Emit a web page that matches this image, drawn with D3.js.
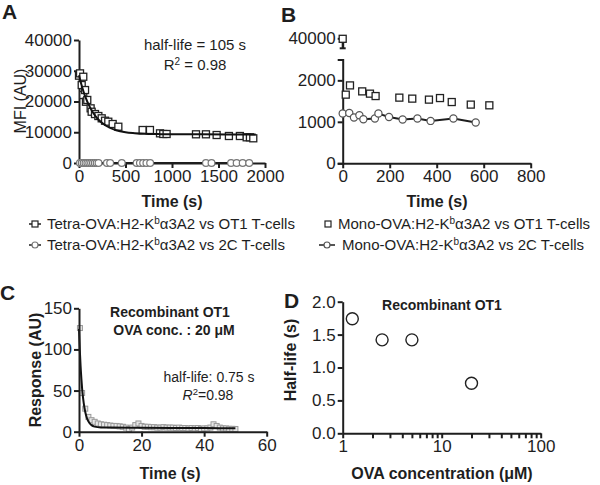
<!DOCTYPE html>
<html><head><meta charset="utf-8">
<script src="https://cdn.jsdelivr.net/npm/d3@7"></script>
<style>body{margin:0;background:#fff}svg{display:block}</style>
</head><body>
<script>
// ---------- DATA ----------
// Panel A: Tetra-OVA:H2-Kb a3A2 vs OT1 T-cells (squares) and fitted decay
const A_OT1_t = [0, 11, 29, 46, 46, 65, 75, 89, 125, 136, 172, 208, 244, 280, 315, 362, 423, 684, 763, 871, 906, 942, 1258, 1365, 1480, 1612, 1730, 1803, 1838, 1874];
const A_OT1_v = [28400, 29150, 25350, 28050, 22100, 23730, 19920, 20500, 17780, 16670, 15920, 15280, 14530, 13750, 13430, 12680, 11800, 10730, 10730, 9650, 9430, 9430, 9330, 9330, 9100, 8780, 8780, 8350, 8350, 8030];
const A_fit_t = [0, 25, 50, 75, 100, 150, 200, 250, 300, 400, 500, 600, 700, 850, 1000, 1300, 1600, 1900];
const A_fit_v = [28500, 25600, 23100, 21000, 19200, 16400, 14400, 13000, 11950, 10650, 10000, 9700, 9500, 9400, 9330, 9310, 9300, 9300];
// Panel A: Tetra-OVA:H2-Kb a3A2 vs 2C T-cells (circles)
const A_2C_t = [10, 30, 50, 70, 90, 110, 130, 150, 170, 190, 210, 300, 335, 460, 620, 655, 690, 725, 765, 1365, 1425, 1635, 1695, 1760, 1830];
const A_2C_v = [0, 0, 0, 0, 0, 0, 0, 0, 0, 0, 0, 0, 0, 0, 0, 0, 0, 0, 0, 0, 0, 0, 0, 0, 0];
const A_xticks = [0, 500, 1000, 1500, 2000];
const A_yticks = [0, 10000, 20000, 30000, 40000];

// Panel B: Mono-OVA:H2-Kb a3A2 vs OT1 (squares) and vs 2C (circles)
const B_OT1_t = [0, 13, 31, 83, 116, 140, 241, 296, 367, 414, 464, 545, 624];
const B_OT1_v = [39800, 1655, 1878, 1734, 1679, 1621, 1583, 1559, 1535, 1573, 1477, 1415, 1398];
const B_OT1_sd = [3800, 0, 0, 0, 0, 0, 0, 0, 0, 0, 0, 0, 0];
const B_2C_t = [0, 28, 48, 71, 88, 137, 152, 197, 255, 318, 374, 471, 566];
const B_2C_v = [1199, 1213, 1103, 1158, 1062, 1079, 1199, 1118, 1055, 1079, 1022, 1079, 983];
const B_xticks = [0, 200, 400, 600, 800];
const B_yticksLow = [0, 1000, 2000];
const B_yticksHigh = [40000];

// Panel C: Recombinant OT1, OVA 20 uM response
const C_t = [0.3, 1, 2, 3, 4, 5, 6, 7, 8, 9, 10, 11, 12, 13, 14, 15, 16, 17, 18, 19, 20, 21, 22, 23, 24, 25, 26, 27, 28, 29, 30, 31, 32, 33, 34, 35, 36, 37, 38, 39, 40, 41, 42, 43, 44, 45, 46, 47, 48, 49, 50];
const C_v = [126, 47, 28, 18, 14, 12, 10, 9, 8.5, 8, 7.5, 7, 7, 6.5, 6, 5, 3, 5, 8, 10, 7, 6, 6, 5.5, 5.5, 5, 5, 5.5, 5, 5, 5, 4.5, 5, 4.5, 4.5, 4, 4.5, 4, 4.5, 3.5, 4, 4, 5, 9, 7, 5, 4, 4, 3.5, 3.5, 3.3];
const C_fit_t = [0, 0.25, 0.5, 0.75, 1, 1.5, 2, 2.5, 3, 4, 5, 7, 10, 20, 30, 40, 50];
const C_fit_v = [125, 100, 80, 65, 52, 35, 24, 17, 12.5, 8, 6.2, 5.2, 5, 4.8, 4.6, 4.4, 4.2];
const C_xticks = [0, 20, 40, 60];
const C_yticks = [0, 50, 100, 150];

// Panel D: half-life vs OVA concentration
const D_conc = [1.25, 2.5, 5, 20];
const D_half = [1.74, 1.42, 1.42, 0.76];
const D_xticks = [1, 10, 100];
const D_yticks = [0, 0.5, 1.0, 1.5, 2.0];

// ---------- DRAW ----------
const FONT = "'Liberation Sans', Arial, Helvetica, sans-serif";
const INK = "#1e1e1e";
const TICK_FS = 17;
const svg = d3.select("body").append("svg").attr("width", 600).attr("height", 485)
  .attr("font-family", FONT);

function styleAxis(g) {
  g.attr("font-family", FONT).attr("font-size", TICK_FS);
  g.select(".domain").attr("stroke", INK).attr("stroke-width", 2);
  g.selectAll(".tick line").attr("stroke", INK).attr("stroke-width", 2);
  g.selectAll(".tick text").attr("fill", INK);
}
function txt(x, y, s, opt = {}) {
  const t = svg.append("text").attr("x", x).attr("y", y).text(s)
    .attr("font-size", opt.size || 15).attr("fill", INK)
    .attr("text-anchor", opt.anchor || "middle")
    .attr("font-weight", opt.bold ? "bold" : "normal");
  if (opt.rotate) t.attr("transform", `rotate(-90,${x},${y})`);
  return t;
}
function squares(sel, pts, size, stroke, fill, sw) {
  sel.selectAll(null).data(pts).enter().append("rect")
    .attr("x", d => d[0] - size / 2).attr("y", d => d[1] - size / 2)
    .attr("width", size).attr("height", size)
    .attr("fill", fill).attr("stroke", stroke).attr("stroke-width", sw);
}
function circles(sel, pts, r, stroke, fill, sw) {
  sel.selectAll(null).data(pts).enter().append("circle")
    .attr("cx", d => d[0]).attr("cy", d => d[1]).attr("r", r)
    .attr("fill", fill).attr("stroke", stroke).attr("stroke-width", sw);
}

// Panel letters
txt(2, 19, "A", { size: 21, bold: true, anchor: "start" });
txt(281, 22, "B", { size: 21, bold: true, anchor: "start" });
txt(0, 300, "C", { size: 21, bold: true, anchor: "start" });
txt(284, 308, "D", { size: 21, bold: true, anchor: "start" });

// ===== Panel A =====
{
  const x = d3.scaleLinear().domain([0, 2000]).range([79, 265]);
  const y = d3.scaleLinear().domain([0, 40000]).range([163, 40]);
  const g = svg.append("g");
  const line2C = d3.line().x((d, i) => x(A_2C_t[i])).y((d, i) => y(A_2C_v[i]));
  g.append("path").attr("d", line2C(A_2C_t)).attr("fill", "none").attr("stroke", INK).attr("stroke-width", 2);
  styleAxis(svg.append("g").attr("transform", "translate(0,163)")
    .call(d3.axisBottom(x).tickValues(A_xticks).tickSize(5).tickSizeOuter(0).tickPadding(2).tickFormat(d3.format("d"))));
  styleAxis(svg.append("g").attr("transform", "translate(79,0)")
    .call(d3.axisLeft(y).tickValues(A_yticks).tickSize(5).tickSizeOuter(0).tickPadding(2).tickFormat(d3.format("d"))));
  const g2 = svg.append("g");
  circles(g2, A_2C_t.map((t, i) => [x(t), y(A_2C_v[i])]), 3.4, "#777", "#fff", 1.2);
  squares(g2, A_OT1_t.map((t, i) => [x(t), y(A_OT1_v[i])]), 7, "#222", "#fff", 1.3);
  const fit = d3.line().curve(d3.curveMonotoneX).x((d, i) => x(A_fit_t[i])).y((d, i) => y(A_fit_v[i]));
  g2.append("path").attr("d", fit(A_fit_t)).attr("fill", "none").attr("stroke", "#111").attr("stroke-width", 2);
  txt(195, 50, "half-life = 105 s", { size: 15 });
  const r2 = txt(195, 70, "R", { size: 15 });
  r2.append("tspan").attr("baseline-shift", "super").attr("font-size", 10).text("2");
  r2.append("tspan").text(" = 0.98");
  txt(26, 101, "MFI (AU)", { size: 16, rotate: true });
  txt(172, 207, "Time (s)", { size: 16, bold: true });
}

// ===== Panel B =====
{
  const x = d3.scaleLinear().domain([0, 800]).range([342.7, 530.7]);
  const yL = d3.scaleLinear().domain([0, 2500]).range([163.3, 59.6]);
  const yH = d3.scaleLinear().domain([36000, 40000]).range([48.3, 38.3]);
  const yy = v => v > 2500 ? yH(v) : yL(v);
  styleAxis(svg.append("g").attr("transform", "translate(0,163.3)")
    .call(d3.axisBottom(x).tickValues(B_xticks).tickSize(5).tickSizeOuter(0).tickPadding(2)));
  styleAxis(svg.append("g").attr("transform", "translate(342.7,0)")
    .call(d3.axisLeft(yL).tickValues(B_yticksLow).tickSize(5).tickSizeOuter(5).tickPadding(2).tickFormat(d3.format("d"))));
  styleAxis(svg.append("g").attr("transform", "translate(342.7,0)")
    .call(d3.axisLeft(yH).tickValues(B_yticksHigh).tickSize(5).tickSizeOuter(0).tickPadding(2).tickFormat(d3.format("d"))));
  const g = svg.append("g");
  B_OT1_t.forEach((t, i) => {
    if (!B_OT1_sd[i]) return;
    const yLo = yy(B_OT1_v[i] - B_OT1_sd[i]);
    g.append("line").attr("x1", x(t)).attr("x2", x(t)).attr("y1", yy(B_OT1_v[i])).attr("y2", yLo).attr("stroke", INK).attr("stroke-width", 2);
    g.append("line").attr("x1", x(t) - 3).attr("x2", x(t) + 3).attr("y1", yLo).attr("y2", yLo).attr("stroke", INK).attr("stroke-width", 2);
  });
  const l = d3.line().x((d, i) => x(B_2C_t[i])).y((d, i) => yy(B_2C_v[i]));
  g.append("path").attr("d", l(B_2C_t)).attr("fill", "none").attr("stroke", INK).attr("stroke-width", 2);
  circles(g, B_2C_t.map((t, i) => [x(t), yy(B_2C_v[i])]), 3.6, "#555", "#fff", 1.2);
  squares(g, B_OT1_t.map((t, i) => [x(t), yy(B_OT1_v[i])]), 7, "#222", "#fff", 1.3);
  txt(437, 207, "Time (s)", { size: 16, bold: true });
}

// ===== Legend =====
{
  const g = svg.append("g");
  function label(xp, yp, pre, post) {
    const t = g.append("text").attr("x", xp).attr("y", yp).attr("font-size", 15).attr("fill", INK).text(pre);
    t.append("tspan").attr("baseline-shift", "super").attr("font-size", 10).text("b");
    t.append("tspan").text(post);
  }
  g.append("line").attr("x1", 29).attr("x2", 41).attr("y1", 224).attr("y2", 224).attr("stroke", INK).attr("stroke-width", 1.5);
  squares(g, [[35, 224]], 6, "#222", "#fff", 1.2);
  label(47, 229, "Tetra-OVA:H2-K", "α3A2 vs OT1 T-cells");
  g.append("line").attr("x1", 29).attr("x2", 41).attr("y1", 245).attr("y2", 245).attr("stroke", INK).attr("stroke-width", 1.5);
  circles(g, [[35, 245]], 3, "#777", "#fff", 1.2);
  label(47, 250, "Tetra-OVA:H2-K", "α3A2 vs 2C T-cells");
  squares(g, [[328, 224]], 6, "#222", "#fff", 1.2);
  label(338, 229, "Mono-OVA:H2-K", "α3A2 vs OT1 T-cells");
  g.append("line").attr("x1", 319).attr("x2", 335).attr("y1", 245).attr("y2", 245).attr("stroke", INK).attr("stroke-width", 1.5);
  circles(g, [[327, 245]], 3, "#555", "#fff", 1.2);
  label(342, 250, "Mono-OVA:H2-K", "α3A2 vs 2C T-cells");
}

// ===== Panel C =====
{
  const x = d3.scaleLinear().domain([0, 60]).range([79, 266.7]);
  const y = d3.scaleLinear().domain([0, 150]).range([431.7, 308.3]);
  const g = svg.append("g");
  squares(g, C_t.map((t, i) => [x(t), y(C_v[i])]), 5, "#999", "#e6e6e6", 1);
  const fit = d3.line().curve(d3.curveMonotoneX).x((d, i) => x(C_fit_t[i])).y((d, i) => y(C_fit_v[i]));
  g.append("path").attr("d", fit(C_fit_t)).attr("fill", "none").attr("stroke", "#111").attr("stroke-width", 2);
  styleAxis(svg.append("g").attr("transform", "translate(0,431.7)")
    .call(d3.axisBottom(x).tickValues(C_xticks).tickSize(5).tickSizeOuter(0).tickPadding(2)));
  styleAxis(svg.append("g").attr("transform", "translate(79,0)")
    .call(d3.axisLeft(y).tickValues(C_yticks).tickSize(5).tickSizeOuter(0).tickPadding(2)));
  txt(170, 317, "Recombinant OT1", { size: 14, bold: true });
  txt(174, 335, "OVA conc. : 20 μM", { size: 14, bold: true });
  txt(209, 382, "half-life: 0.75 s", { size: 14 });
  const r = txt(208, 400, "", { size: 14 });
  r.append("tspan").attr("font-style", "italic").text("R");
  r.append("tspan").attr("baseline-shift", "super").attr("font-size", 9.5).text("2");
  r.append("tspan").text("=0.98");
  txt(41, 370, "Response (AU)", { size: 16, bold: true, rotate: true });
  txt(170, 479, "Time (s)", { size: 16, bold: true });
}

// ===== Panel D =====
{
  const x = d3.scaleLog().domain([1, 100]).range([342.7, 540.7]);
  const y = d3.scaleLinear().domain([0, 2]).range([433.3, 301.7]);
  const ax = svg.append("g").attr("transform", "translate(0,433.3)")
    .call(d3.axisBottom(x).ticks(10).tickSize(5).tickSizeOuter(0).tickPadding(2)
      .tickFormat(d => D_xticks.includes(d) ? d3.format("d")(d) : ""));
  styleAxis(ax);
  styleAxis(svg.append("g").attr("transform", "translate(342.7,0)")
    .call(d3.axisLeft(y).tickValues(D_yticks).tickSize(5).tickSizeOuter(0).tickPadding(2).tickFormat(d3.format(".1f"))));
  circles(svg.append("g"), D_conc.map((c, i) => [x(c), y(D_half[i])]), 6, "#222", "#fff", 1.4);
  txt(442, 310, "Recombinant OT1", { size: 14, bold: true });
  txt(296, 360, "Half-life (s)", { size: 16, bold: true, rotate: true });
  txt(442, 479, "OVA concentration (μM)", { size: 16, bold: true });
}
</script>
</body></html>
